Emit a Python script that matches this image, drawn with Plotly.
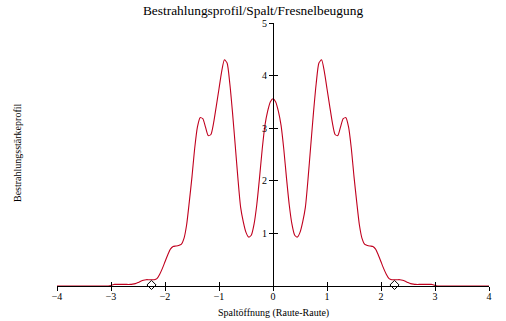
import plotly.graph_objects as go

# x positions (Spaltöffnung), step 0.05 from -4 to 4
x_vals = [round(-4 + 0.05 * i, 2) for i in range(161)]

# intensity values (right half, x = 0 ... 4)
y_right = [
    3.56, 3.50, 3.32, 3.05, 2.60, 2.05, 1.55, 1.18, 0.97, 0.93,
    1.02, 1.22, 1.50, 2.05, 2.68, 3.30, 3.85, 4.24, 4.30, 4.08,
    3.75, 3.42, 3.10, 2.88, 2.86, 3.02, 3.18, 3.20, 3.02, 2.62,
    2.08, 1.60, 1.16, 0.90, 0.79, 0.77, 0.76, 0.75, 0.70, 0.59,
    0.46, 0.33, 0.22, 0.14, 0.12, 0.12, 0.12, 0.12, 0.11, 0.09,
    0.065, 0.045, 0.035, 0.03, 0.03, 0.03, 0.03, 0.03, 0.03, 0.03,
    0.01, 0.0, 0.0, 0.0, 0.0, 0.0, 0.0, 0.0, 0.0, 0.0,
    0.0, 0.0, 0.0, 0.0, 0.0, 0.0, 0.0, 0.0, 0.0, 0.0,
    0.0,
]
# left half, x = -4 ... -0.05
y_left = [
    0.0, 0.0, 0.0, 0.0, 0.0, 0.0, 0.0, 0.0, 0.0, 0.0,
    0.0, 0.0, 0.0, 0.0, 0.0, 0.0, 0.0, 0.0, 0.0, 0.0,
    0.01, 0.03, 0.03, 0.03, 0.03, 0.03, 0.03, 0.03, 0.035, 0.045,
    0.065, 0.09, 0.11, 0.12, 0.12, 0.12, 0.12, 0.14, 0.22, 0.33,
    0.46, 0.59, 0.70, 0.75, 0.76, 0.77, 0.79, 0.90, 1.16, 1.60,
    2.08, 2.62, 3.02, 3.20, 3.18, 3.02, 2.86, 2.88, 3.10, 3.42,
    3.75, 4.08, 4.30, 4.24, 3.85, 3.30, 2.68, 2.05, 1.50, 1.22,
    1.02, 0.93, 0.97, 1.18, 1.55, 2.05, 2.60, 3.05, 3.32, 3.50,
]
y_vals = y_left + y_right

# diamond markers (Raute) at the slit edges
marker_x = [-2.25, 2.25]
marker_y = [0.02, 0.02]

x_ticks = [-4, -3, -2, -1, 0, 1, 2, 3, 4]
y_ticks = [1, 2, 3, 4, 5]

title_text = "Bestrahlungsprofil/Spalt/Fresnelbeugung"
x_title = "Spaltöffnung (Raute-Raute)"
y_title = "Bestrahlungsstärkeprofil"

FONT = "Liberation Serif"
RED = "#c0001e"

fig = go.Figure()
fig.add_trace(go.Scatter(
    x=x_vals, y=y_vals, mode="lines",
    line=dict(color=RED, width=1.1, shape="spline", smoothing=0.6),
    hoverinfo="skip", showlegend=False, cliponaxis=False,
))
fig.add_trace(go.Scatter(
    x=marker_x, y=marker_y, mode="markers",
    marker=dict(symbol="diamond-open", size=7, color="black", line=dict(width=1)),
    showlegend=False, cliponaxis=False,
))
# invisible trace on the overlay axes (for crossing tick marks)
fig.add_trace(go.Scatter(
    x=[0], y=[0], xaxis="x2", yaxis="y2", mode="markers",
    marker=dict(opacity=0), showlegend=False, hoverinfo="skip",
))

axis_common = dict(showgrid=False, zeroline=False, tickcolor="black",
                   tickwidth=1, ticklen=4,
                   tickfont=dict(family=FONT, size=10, color="black"))

fig.update_layout(
    width=506, height=321,
    margin=dict(l=57, r=17, t=23, b=35),
    paper_bgcolor="white", plot_bgcolor="white",
    font=dict(family=FONT, color="black"),
    title=dict(text=title_text, x=0.5, xanchor="center", y=1 - 10.5 / 321,
               yanchor="middle", yref="container",
               font=dict(family=FONT, size=13.4, color="black")),
    xaxis=dict(range=[-4, 4], tickvals=x_ticks, ticks="outside",
               showline=True, linecolor="black", linewidth=1,
               anchor="y", ticklabelstandoff=-3, **axis_common),
    xaxis2=dict(range=[-4, 4], tickvals=x_ticks, ticks="inside",
                overlaying="x", anchor="y", showline=False,
                showticklabels=False, **axis_common),
    yaxis=dict(range=[0, 5], tickvals=y_ticks, ticks="outside",
               showline=True, linecolor="black", linewidth=1,
               anchor="free", position=0.5, **axis_common),
    yaxis2=dict(range=[0, 5], tickvals=y_ticks, ticks="inside",
                overlaying="y", anchor="free", position=0.5, side="left",
                showline=False, showticklabels=False, **axis_common),
    annotations=[
        dict(text=x_title, xref="paper", yref="paper", x=0.5, y=-0.103,
             xanchor="center", yanchor="middle", showarrow=False,
             font=dict(family=FONT, size=10, color="black")),
        dict(text=y_title, xref="paper", yref="paper", x=-0.09, y=0.506,
             xanchor="center", yanchor="middle", showarrow=False,
             textangle=-90,
             font=dict(family=FONT, size=10, color="black")),
    ],
)

fig.write_html("out.html")
